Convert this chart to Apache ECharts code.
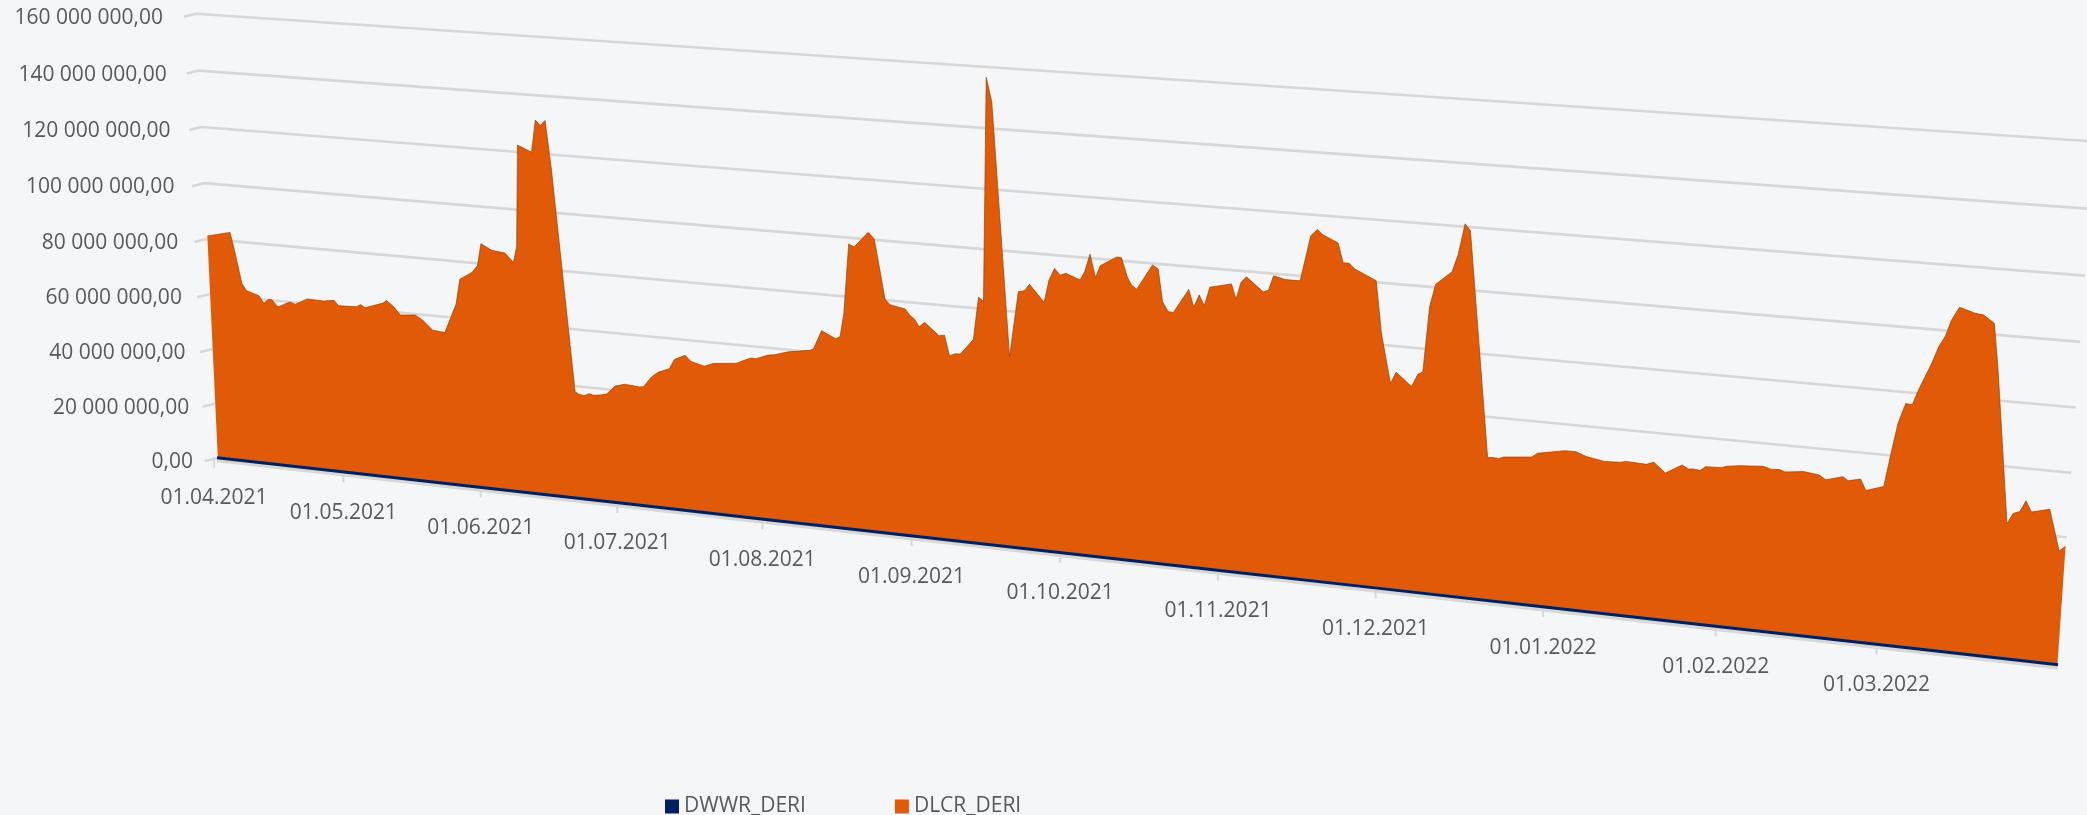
<!DOCTYPE html>
<html><head><meta charset="utf-8"><style>html,body{margin:0;padding:0;background:#f4f6f8}#c{width:2087px;height:815px}</style>
<script src="https://cdn.jsdelivr.net/npm/echarts@6/dist/echarts.min.js"></script></head><body><div id="c"></div><script>
// ---- data ----
const dlcrDays=[0.2,5.5,6.4,7.7,8.7,11.5,12.6,13.7,14.5,15.8,18.6,19.8,22.6,26.3,28.7,29.7,33.8,34.7,35.7,39.8,40.6,42.1,43.6,46.9,48.5,50.7,53.4,56.1,57.1,59.8,61.1,62.0,64.3,67.2,69.0,69.8,70.6,73.6,74.6,75.6,76.7,77.8,81.7,82.4,83.6,84.7,85.6,87.1,88.5,90.4,92.5,95.7,96.5,98.3,99.7,102.1,103.2,105.5,106.7,109.5,111.4,116.4,117.8,119.4,120.4,123.0,124.3,127.2,131.7,132.4,134.1,137.0,137.9,138.7,139.8,140.9,143.8,145.0,146.1,147.1,148.1,151.2,152.2,153.0,154.0,155.1,158.0,159.1,160.1,161.3,162.3,164.9,165.9,166.9,167.4,168.5,172.1,173.8,175.0,176.0,178.9,179.8,180.9,182.0,183.1,185.9,186.8,187.8,188.9,189.8,193.0,193.9,195.1,195.9,196.9,199.9,201.0,201.9,203.0,204.0,206.9,207.9,208.9,209.9,210.9,215.0,215.9,216.8,217.8,221.0,222.0,222.9,225.1,227.9,229.7,230.9,232.0,234.8,235.8,236.9,238.0,239.0,242.0,243.2,245.1,246.1,249.0,250.1,251.0,251.9,252.9,255.8,256.8,257.9,258.9,263.3,264.3,265.3,266.2,271.3,272.3,277.2,279.2,281.1,284.3,287.1,288.2,291.8,293.1,295.2,298.1,299.2,300.1,301.3,302.2,305.0,305.9,308.2,312.2,313.7,315.1,316.0,319.2,321.9,323.1,326.0,326.9,329.0,330.0,333.0,334.0,334.8,335.9,337.0,337.9,339.8,340.9,341.8,342.7,343.9,346.5,347.9,349.8,350.9,354.0,354.9,356.0,356.9,357.9,360.9,362.9,363.9];
const dlcrMillions=[81.1,83.1,76.3,65.1,62.6,61.2,58.6,60.2,60.1,57.8,60.0,59.3,61.7,61.5,62.1,60.3,60.6,61.5,60.5,62.8,63.8,61.9,59.1,59.6,58.1,54.8,54.4,64.9,73.8,76.6,79.2,87.0,85.0,84.5,81.4,87.1,122.4,120.3,131.5,129.7,131.6,114.7,38.0,37.3,36.9,37.8,37.4,37.7,38.3,41.4,42.4,42.0,42.2,46.0,47.8,49.4,52.8,54.6,52.7,51.5,52.7,53.6,54.8,55.9,55.8,57.5,57.8,59.3,60.5,61.2,67.6,65.3,66.2,74.2,97.9,97.0,102.4,100.3,90.0,80.4,78.6,77.6,75.5,74.6,72.0,73.7,69.6,70.0,63.2,64.1,64.1,69.5,83.8,82.6,156.6,148.8,64.8,86.8,87.3,89.6,84.0,91.4,95.6,93.5,94.3,92.5,95.4,101.3,93.7,97.8,101.1,101.0,94.7,92.3,91.1,99.5,98.3,87.7,84.6,84.5,92.5,86.8,91.0,87.6,93.8,95.5,90.6,96.3,98.2,93.8,94.5,99.3,98.4,98.4,113.2,115.4,113.8,111.6,105.4,105.4,103.7,102.9,100.5,83.7,67.8,71.6,67.4,71.6,72.5,93.6,101.0,105.4,110.9,120.9,118.9,46.8,47.0,46.8,47.5,48.4,49.8,51.5,51.5,50.3,49.3,49.5,50.0,49.7,50.6,47.5,50.6,49.5,49.7,49.4,50.8,51.0,51.6,52.2,52.7,52.0,52.2,51.6,52.3,51.7,50.4,51.9,50.8,51.7,48.3,50.1,61.7,70.2,76.5,76.3,81.0,89.4,95.1,98.1,103.3,107.4,106.0,105.7,103.4,89.3,42.3,45.7,46.5,50.0,46.7,48.1,35.5,37.2];
const dwwrDays=[0,30,61,91,122,153,183,214,244,275,306,334,364];
const dwwrMillions=[0.1,0.1,0.1,0.1,0.1,0.1,0.1,0.1,0.1,0.1,0.1,0.1,0.1];
const yTickValues=[0,20,40,60,80,100,120,140,160];
const yTickLabels=['0,00','20 000 000,00','40 000 000,00','60 000 000,00','80 000 000,00','100 000 000,00','120 000 000,00','140 000 000,00','160 000 000,00'];
const xTickDays=[0,30,61,91,122,153,183,214,244,275,306,334];
const xTickLabels=['01.04.2021','01.05.2021','01.06.2021','01.07.2021','01.08.2021','01.09.2021','01.10.2021','01.11.2021','01.12.2021','01.01.2022','01.02.2022','01.03.2022'];
const seriesNames=['DWWR_DERI','DLCR_DERI'];
// ---- perspective plane: the library's axes give the plot position, this maps it onto the tilted plane ----
const c=[[217,458],[2058,665],[2094,141.5],[196,13.7]];
const [x0,y0]=c[0],[x1,y1]=c[1],[x2,y2]=c[2],[x3,y3]=c[3];
const dx1=x1-x2,dx2=x3-x2,sx=x0-x1+x2-x3,dy1=y1-y2,dy2=y3-y2,sy=y0-y1+y2-y3,den=dx1*dy2-dx2*dy1;
const hg=(sx*dy2-dx2*sy)/den,hh=(dx1*sy-sx*dy1)/den,ha=x1-x0+hg*x1,hb=x3-x0+hh*x3,hd=y1-y0+hg*y1,he=y3-y0+hh*y3;
function plane(params,api){const r=params.coordSys;return (d,v)=>{const q=api.coord([d,v]);const u=(q[0]-r.x)/r.width,t=(r.y+r.height-q[1])/r.height;const w=hg*u+hh*t+1;return[(ha*u+hb*t+x0)/w,(hd*u+he*t+y0)/w];};}
const BG='#f4f6f8',ORANGE='#e05a08',NAVY='#002060',GRID='#d7d7d7',TXT='#595959',FONT='"Open Sans"',TICK_SHIFT=-0.7,FS=21;
const noTip={silent:true,tooltip:{show:false}};
const chart=echarts.init(document.getElementById('c'));
chart.setOption({
 backgroundColor:BG,animation:false,
 grid:{left:0,right:0,top:0,bottom:0},
 xAxis:{type:'value',min:0,max:364,show:false},
 yAxis:{type:'value',min:0,max:160,show:false},
 legend:{left:665,top:796,padding:0,itemWidth:14,itemHeight:14,itemGap:89,icon:'rect',data:seriesNames,selectedMode:false,textStyle:{color:TXT,fontFamily:FONT,fontSize:FS}},
 series:[
  {type:'custom',...noTip,z:1,data:yTickValues.map(v=>[0,v]),renderItem(p,api){const P=plane(p,api),v=api.value(1),a=P(0,v),b=P(364,v);
    return{type:'polyline',shape:{points:[[a[0]-12,a[1]+3],a,b]},style:{stroke:GRID,lineWidth:2.6,fill:null}};}},
  {type:'custom',...noTip,z:1,data:xTickDays.map(d=>[d,0]),renderItem(p,api){const P=plane(p,api),a=P(api.value(0)+TICK_SHIFT,0);
    return{type:'line',shape:{x1:a[0],y1:a[1],x2:a[0],y2:a[1]+10},style:{stroke:GRID,lineWidth:2}};}},
  {type:'custom',...noTip,z:1,data:[[0,0]],renderItem(p,api){const P=plane(p,api),a=P(0,-0.9),b=P(364,-0.9);
    return{type:'line',shape:{x1:a[0],y1:a[1],x2:b[0],y2:b[1]},style:{stroke:GRID,lineWidth:3.5}};}},
  {type:'custom',name:seriesNames[1],...noTip,z:3,itemStyle:{color:ORANGE},data:dlcrDays.map((d,i)=>[d,dlcrMillions[i]]),renderItem(p,api){
    if(p.dataIndex!==0)return{type:'group',children:[]};const P=plane(p,api);
    const top=dlcrDays.map((d,i)=>P(d,dlcrMillions[i]));
    const poly=[P(dlcrDays[0],0),...top,P(dlcrDays[dlcrDays.length-1],0)];
    return{type:'group',children:[{type:'polygon',shape:{points:poly},style:{fill:ORANGE}},
      {type:'polyline',shape:{points:top},style:{stroke:'rgba(130,55,0,0.6)',lineWidth:1,fill:null}}]};}},
  {type:'custom',name:seriesNames[0],...noTip,z:4,itemStyle:{color:NAVY},data:dwwrDays.map((d,i)=>[d,dwwrMillions[i]]),renderItem(p,api){
    if(p.dataIndex!==0)return{type:'group',children:[]};const P=plane(p,api);
    return{type:'polyline',shape:{points:dwwrDays.map((d,i)=>P(d,dwwrMillions[i]))},style:{stroke:NAVY,lineWidth:3,fill:null}};}},
  {type:'custom',...noTip,z:5,data:yTickValues.map((v,i)=>[0,v,i]),renderItem(p,api){const P=plane(p,api),v=api.value(1),a=P(0,v);
    return{type:'text',style:{text:yTickLabels[api.value(2)],x:a[0]-(24+9*v/160),y:a[1]+4,align:'right',verticalAlign:'middle',fill:TXT,fontFamily:FONT,fontSize:FS}};}},
  {type:'custom',...noTip,z:5,data:xTickDays.map((d,i)=>[d,0,i]),renderItem(p,api){const P=plane(p,api),a=P(api.value(0)+TICK_SHIFT,0);
    return{type:'text',style:{text:xTickLabels[api.value(2)],x:a[0],y:a[1]+40.5,align:'center',verticalAlign:'middle',fill:TXT,fontFamily:FONT,fontSize:FS}};}}
 ]
});
</script></body></html>
